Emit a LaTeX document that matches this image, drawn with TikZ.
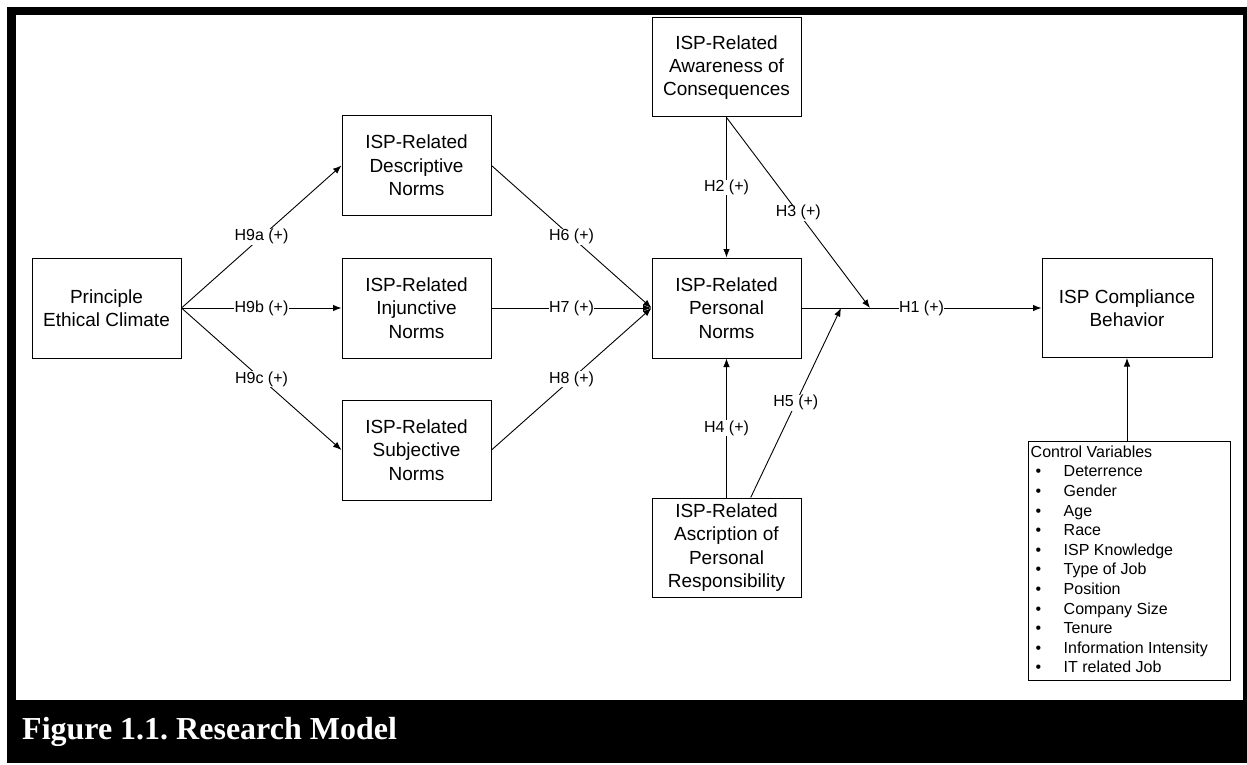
\documentclass[tikz,border=0pt]{standalone}
\usepackage{fontspec}
\setmainfont{Liberation Sans}
\newfontfamily\capfont{Liberation Serif}
\usepackage{tikz}
\usetikzlibrary{arrows.meta,positioning,calc}
\frenchspacing

\newcommand{\cvitem}[1]{\makebox[33pt][l]{\hspace{5pt}\textbullet}#1}

\begin{document}
\begin{tikzpicture}[x=1pt,y=-1pt,
    box/.style={draw,line width=1pt,inner sep=0pt,minimum width=149pt,
                minimum height=99pt,align=center,
                font=\fontsize{19}{23.3}\selectfont},
    arr/.style={-{Latex[length=8.5pt,width=6.5pt]},line width=0.9pt},
    lbl/.style={fill=white,inner sep=0.5pt,font=\fontsize{16}{19}\selectfont}]
  \useasboundingbox (0,0) rectangle (1247,765);

  % frame and caption band
  \fill (7,7) rectangle (1247,763);
  \fill[white] (16,15) rectangle (1243,700);
  \node[anchor=base west,inner sep=0pt,text=white,
        font=\capfont\bfseries\fontsize{32}{36}\selectfont] (caption)
        at (22,739) {Figure 1.1. Research Model};

  % constructs
  \node[box,minimum height=100pt] (pec) at (106.5,308) {Principle\\Ethical Climate};
  \node[box] (desc) at (416.5,165.5) {ISP-Related\\Descriptive\\Norms};
  \node[box,minimum height=100pt] (inj) at (416.5,308) {ISP-Related\\Injunctive\\Norms};
  \node[box,minimum height=100pt] (subj) at (416.5,450) {ISP-Related\\Subjective\\Norms};
  \node[box,minimum height=100pt] (pn) at (726.5,308) {ISP-Related\\Personal\\Norms};
  \node[box] (aware) at (726.5,67.5) {ISP-Related\\Awareness of\\Consequences};
  \node[box] (ascr) at (726.5,547.5) {ISP-Related\\Ascription of\\Personal\\Responsibility};
  \node[box,minimum width=170pt] (isp) at (1127,308) {ISP Compliance\\Behavior};

  % control variables
  \node[draw,line width=1pt,minimum width=202pt,minimum height=239pt,
        inner sep=0pt] (ctrl) at (1129,560.5) {};
  \node[anchor=north west,align=left,inner sep=0pt,
        font=\fontsize{16}{19.6}\selectfont] (ctrltext)
        at ($(ctrl.north west)+(3,5)$) {Control Variables\\
        \cvitem{Deterrence}\\
        \cvitem{Gender}\\
        \cvitem{Age}\\
        \cvitem{Race}\\
        \cvitem{ISP Knowledge}\\
        \cvitem{Type of Job}\\
        \cvitem{Position}\\
        \cvitem{Company Size}\\
        \cvitem{Tenure}\\
        \cvitem{Information Intensity}\\
        \cvitem{IT related Job}};

  \coordinate (h3end) at (870,308);
  \coordinate (h5end) at (841,308);

  % paths
  \draw[arr] (pec.east) -- node[lbl] {H9a (+)} (desc.west);
  \draw[arr] (pec.east) -- node[lbl] {H9b (+)} (inj.west);
  \draw[arr] (pec.east) -- node[lbl] {H9c (+)} (subj.west);
  \draw[arr] (desc.east) -- node[lbl] {H6 (+)} (pn.west);
  \draw[arr] (inj.east) -- node[lbl] {H7 (+)} (pn.west);
  \draw[arr] (subj.east) -- node[lbl] {H8 (+)} (pn.west);
  \draw[arr] (aware.south) -- node[lbl] {H2 (+)} (pn.north);
  \draw[arr] (aware.south) -- node[lbl] {H3 (+)} (h3end);
  \draw[arr] (ascr.north) -- node[lbl] {H4 (+)} (pn.south);
  \draw[arr] (ascr.north -| 750.7,0) -- node[lbl] {H5 (+)} (h5end);
  \draw[arr] (pn.east) -- node[lbl] {H1 (+)} (isp.west);
  \draw[arr] (ctrl.north -| isp.south) -- (isp.south);
\end{tikzpicture}
\end{document}
